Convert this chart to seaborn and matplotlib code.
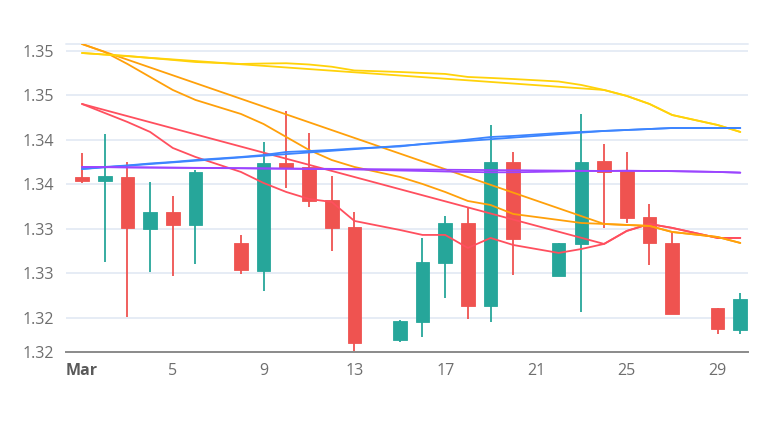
import numpy as np
import pandas as pd
import matplotlib
matplotlib.use("Agg")
import matplotlib.pyplot as plt
import seaborn as sns

# trading days in March (gaps = no data)
days = [1, 2, 3, 4, 5, 6, 8, 9, 10, 11, 12, 13, 15, 16, 17, 18, 19, 20, 22, 23, 24, 25, 26, 27, 29, 30]

opens = [1.34086, 1.34038, 1.34086, 1.33499, 1.33693, 1.33544, 1.33345, 1.33031, 1.34236, 1.34198, 1.33824, 1.33518, 1.32253,
         1.32452, 1.33114, 1.33570, 1.32638, 1.34248, 1.32975, 1.33331, 1.34259, 1.34150, 1.33630, 1.33338, 1.32609, 1.32365]
highs = [1.34349, 1.34562, 1.34248, 1.34030, 1.33869, 1.34161, 1.33432, 1.34472, 1.34827, 1.34580, 1.34097, 1.33693, 1.32478,
         1.33395, 1.33645, 1.33749, 1.34666, 1.34366, 1.33345, 1.34786, 1.34453, 1.34360, 1.33776, 1.33469, 1.32609, 1.32784]
lows = [1.34019, 1.33132, 1.32515, 1.33020, 1.32971, 1.33103, 1.32994, 1.32807, 1.33956, 1.33749, 1.33252, 1.32133, 1.32234,
        1.32290, 1.32721, 1.32489, 1.32459, 1.32983, 1.32975, 1.32564, 1.33514, 1.33563, 1.33095, 1.32540, 1.32321, 1.32321]
closes = [1.34041, 1.34097, 1.33514, 1.33693, 1.33544, 1.34135, 1.33039, 1.34236, 1.34187, 1.33817, 1.33507, 1.32216, 1.32466,
          1.33125, 1.33563, 1.32635, 1.34248, 1.33383, 1.33345, 1.34248, 1.34142, 1.33626, 1.33338, 1.32545, 1.32373, 1.32710]

# moving average style lines
ma_red = [1.34902, 1.34801, 1.34700, 1.34588, 1.34408, 1.34307, 1.34139, 1.34015, 1.33914, 1.33836, 1.33802, 1.33589, 1.33488,
          1.33432, 1.33432, 1.33286, 1.33398, 1.33319, 1.33230, 1.33274, 1.33331, 1.33477, 1.33555, 1.33511, 1.33398, 1.33398]
ma_orange = [1.35575, 1.35485, 1.35351, 1.35205, 1.35059, 1.34947, 1.34790, 1.34677, 1.34531, 1.34386, 1.34273, 1.34195, 1.34083,
             1.34004, 1.33914, 1.33813, 1.33768, 1.33667, 1.33600, 1.33566, 1.33555, 1.33544, 1.33533, 1.33465, 1.33409, 1.33342]
ma_yellow = [1.35474, 1.35457, 1.35441, 1.35418, 1.35396, 1.35373, 1.35351, 1.35356, 1.35359, 1.35345, 1.35320, 1.35278, 1.35261,
             1.35250, 1.35239, 1.35205, 1.35194, 1.35182, 1.35154, 1.35115, 1.35059, 1.34992, 1.34902, 1.34778, 1.34666, 1.34588]
ma_blue = [1.34172, 1.34195, 1.34212, 1.34234, 1.34251, 1.34273, 1.34307, 1.34329, 1.34363, 1.34374, 1.34386, 1.34402, 1.34425,
           1.34453, 1.34475, 1.34503, 1.34531, 1.34543, 1.34576, 1.34588, 1.34599, 1.34610, 1.34621, 1.34632, 1.34632, 1.34632]
ma_purple = [1.34195, 1.34193, 1.34190, 1.34188, 1.34186, 1.34184, 1.34180, 1.34177, 1.34175, 1.34172, 1.34170, 1.34167, 1.34155,
             1.34150, 1.34144, 1.34139, 1.34135, 1.34135, 1.34144, 1.34150, 1.34150, 1.34152, 1.34150, 1.34148, 1.34139, 1.34131]

ma_colors = {"red": "#ff4f5e", "orange": "#ffa00a", "yellow": "#ffd20a", "blue": "#3d85ff", "purple": "#9b45ff"}

x_ticks = [1, 5, 9, 13, 17, 21, 25, 29]
x_labels = ["Mar", "5", "9", "13", "17", "21", "25", "29"]
y_ticks = [1.32118, 1.325, 1.330, 1.335, 1.340, 1.345, 1.350, 1.355]
y_labels = ["1.32", "1.32", "1.33", "1.33", "1.34", "1.34", "1.35", "1.35"]

UP = "#26a69a"
DOWN = "#ef5350"
GRID = "#e6ecf5"

sns.set_style("white")
plt.rcParams["font.family"] = ["Open Sans", "DejaVu Sans"]

df = pd.DataFrame({"day": days, "open": opens, "high": highs, "low": lows, "close": closes})
df["up"] = df["close"] >= df["open"]
colors = np.where(df["up"], UP, DOWN)

fig = plt.figure(figsize=(7.7, 4.44), dpi=100)
ax = fig.add_axes([66 / 770, 92 / 444, 682 / 770, 308 / 444])

ax.set_xlim(0.295, 30.34)
ax.set_ylim(1.32118, 1.35575)

# grid
for t in y_ticks[1:]:
    ax.axhline(t, color=GRID, lw=1.4, zorder=0)
ax.axhline(1.35575, color=GRID, lw=1.4, zorder=0, clip_on=False)

# candles
ax.vlines(df["day"], df["low"], df["high"], colors=colors, lw=1.3, zorder=2)
body_lo = df[["open", "close"]].min(axis=1)
body_h = (df["close"] - df["open"]).abs().clip(lower=0.00004)
ax.bar(df["day"], body_h, bottom=body_lo, width=0.6, color=colors,
       edgecolor=colors, linewidth=0.6, zorder=2)

# lines: full series + the sparse (day 1 -> day 24 onwards) copy
lines = {"red": ma_red, "orange": ma_orange, "yellow": ma_yellow, "blue": ma_blue, "purple": ma_purple}
idx24 = days.index(24)
for name, vals in lines.items():
    sns.lineplot(x=days, y=vals, color=ma_colors[name], lw=1.3, ax=ax, zorder=3, estimator=None)
    sx = [days[0]] + days[idx24:]
    sy = [vals[0]] + vals[idx24:]
    sns.lineplot(x=sx, y=sy, color=ma_colors[name], lw=1.3, ax=ax, zorder=3, estimator=None)

# axes styling
for s in ["left", "right", "top"]:
    ax.spines[s].set_visible(False)
ax.spines["bottom"].set_color("#8a8a8a")
ax.spines["bottom"].set_linewidth(1.4)

ax.set_xticks(x_ticks)
ax.set_xticklabels(x_labels)
ax.set_yticks(y_ticks)
ax.set_yticklabels(y_labels)
ax.tick_params(axis="x", direction="out", length=5, width=1.2, color="#8a8a8a",
               labelsize=11.5, labelcolor="#6e6e6e", pad=3)
ax.tick_params(axis="y", length=0, labelsize=11.5, labelcolor="#6e6e6e", pad=8.5)
ax.get_xticklabels()[0].set_fontweight("bold")
ax.get_xticklabels()[0].set_color("#5a5a5a")
ax.set_xlabel("")
ax.set_ylabel("")

fig.savefig("out.png", dpi=100)
